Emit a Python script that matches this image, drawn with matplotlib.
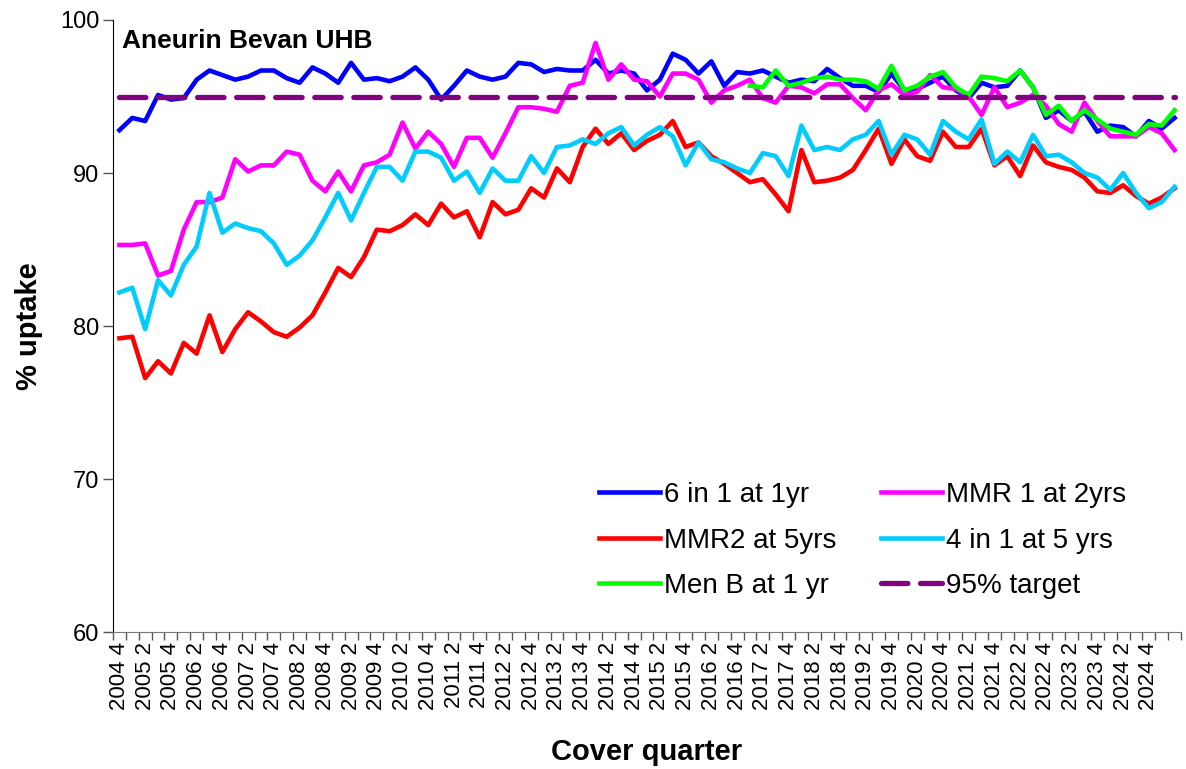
import matplotlib
matplotlib.use("Agg")
import matplotlib.pyplot as plt

plt.rcParams["font.family"] = ["Liberation Sans", "DejaVu Sans"]

# quarters from 2004 Q4 to 2025 Q2
quarters = [f"{2004 + (i + 3) // 4} {(i + 3) % 4 + 1}" for i in range(83)]
last_label = "2024 4"

six_in_one = [92.8, 93.6, 93.4, 95.1, 94.8, 94.9, 96.1, 96.7, 96.4, 96.1,
              96.3, 96.7, 96.7, 96.2, 95.9, 96.9, 96.5, 95.9, 97.2, 96.1,
              96.2, 96.0, 96.3, 96.9, 96.1, 94.8, 95.7, 96.7, 96.3, 96.1,
              96.3, 97.2, 97.1, 96.6, 96.8, 96.7, 96.7, 97.4, 96.5, 96.7,
              96.5, 95.4, 96.1, 97.8, 97.4, 96.5, 97.3, 95.7, 96.6, 96.5,
              96.7, 96.3, 95.9, 96.1, 96.0, 96.8, 96.2, 95.7, 95.7, 95.3,
              96.5, 95.4, 95.5, 95.9, 96.3, 95.4, 94.9, 95.9, 95.6, 95.7,
              96.7, 95.6, 93.6, 94.1, 93.4, 94.0, 92.7, 93.1, 93.0, 92.4,
              93.4, 92.9, 93.6]

mmr1 = [85.3, 85.3, 85.4, 83.3, 83.6, 86.3, 88.1, 88.1, 88.4, 90.9,
        90.1, 90.5, 90.5, 91.4, 91.2, 89.5, 88.8, 90.1, 88.8, 90.5,
        90.7, 91.2, 93.3, 91.6, 92.7, 91.9, 90.4, 92.3, 92.3, 91.0,
        92.6, 94.3, 94.3, 94.2, 94.0, 95.7, 95.9, 98.5, 96.1, 97.1,
        96.1, 96.0, 95.0, 96.5, 96.5, 96.1, 94.6, 95.4, 95.7, 96.1,
        94.9, 94.6, 95.7, 95.6, 95.2, 95.8, 95.8, 94.9, 94.1, 95.4,
        95.8, 95.1, 95.3, 96.4, 95.6, 95.5, 95.0, 93.8, 95.6, 94.3,
        94.6, 95.1, 94.4, 93.2, 92.7, 94.6, 93.4, 92.4, 92.4, 92.4,
        93.0, 92.6, 91.5]

mmr2 = [79.2, 79.3, 76.6, 77.7, 76.9, 78.9, 78.2, 80.7, 78.3, 79.8,
        80.9, 80.3, 79.6, 79.3, 79.9, 80.7, 82.2, 83.8, 83.2, 84.5,
        86.3, 86.2, 86.6, 87.3, 86.6, 88.0, 87.1, 87.5, 85.8, 88.1,
        87.3, 87.6, 89.0, 88.4, 90.3, 89.4, 91.7, 92.9, 91.9, 92.6,
        91.5, 92.1, 92.5, 93.4, 91.7, 92.0, 91.1, 90.6, 90.0, 89.4,
        89.6, 88.6, 87.5, 91.5, 89.4, 89.5, 89.7, 90.2, 91.5, 92.9,
        90.6, 92.2, 91.1, 90.8, 92.7, 91.7, 91.7, 92.9, 90.5, 91.1,
        89.8, 91.8, 90.7, 90.4, 90.2, 89.7, 88.8, 88.7, 89.2, 88.5,
        88.0, 88.4, 89.0]

four_in_one = [82.2, 82.5, 79.8, 83.0, 82.0, 84.0, 85.2, 88.7, 86.1, 86.7,
               86.4, 86.2, 85.4, 84.0, 84.6, 85.6, 87.1, 88.7, 86.9, 88.7,
               90.4, 90.4, 89.5, 91.4, 91.4, 91.0, 89.5, 90.1, 88.7, 90.3,
               89.5, 89.5, 91.1, 90.0, 91.7, 91.8, 92.2, 91.9, 92.6, 93.0,
               91.8, 92.5, 93.0, 92.4, 90.5, 92.0, 90.9, 90.7, 90.3, 90.0,
               91.3, 91.1, 89.8, 93.1, 91.5, 91.7, 91.5, 92.2, 92.5, 93.4,
               91.2, 92.5, 92.2, 91.2, 93.4, 92.7, 92.2, 93.5, 90.6, 91.4,
               90.7, 92.5, 91.1, 91.2, 90.7, 90.0, 89.7, 88.9, 90.0, 88.7,
               87.7, 88.1, 89.1]

# Men B starts at 2017 Q1
menb_start = "2017 1"
menb = [95.7, 95.6, 96.7, 95.7, 95.9, 96.2, 96.3, 96.1, 96.1, 96.0,
        95.5, 97.0, 95.4, 95.7, 96.3, 96.6, 95.6, 95.1, 96.3, 96.2,
        96.0, 96.7, 95.6, 93.8, 94.4, 93.4, 94.1, 93.5, 92.9, 92.7,
        92.5, 93.2, 93.1, 94.1]

target = 95

x = list(range(len(quarters)))
m0 = quarters.index(menb_start)
xm = list(range(m0, m0 + len(menb)))

fig = plt.figure(figsize=(11.86, 7.69), dpi=100)
ax = fig.add_axes([0.0953, 0.178, 0.9005, 0.796])

lw = 3.3
l1, = ax.plot(x, six_in_one, color="#0000FF", lw=lw, label="6 in 1 at 1yr")
l2, = ax.plot(x, mmr1, color="#FF00FF", lw=lw, label="MMR 1 at 2yrs")
l3, = ax.plot(x, mmr2, color="#FF0000", lw=lw, label="MMR2 at 5yrs")
l4, = ax.plot(x, four_in_one, color="#00CCFF", lw=lw, label="4 in 1 at 5 yrs")
l5, = ax.plot(xm, menb, color="#00FF00", lw=lw, label="Men B at 1 yr")
l6, = ax.plot(x, [target] * len(x), color="#800080", lw=3.8,
              dashes=(5, 2.4), dash_capstyle="round", label="95% target")

ax.set_xlim(-0.5, len(x) - 0.5)
ax.set_ylim(60, 100)
ax.set_yticks([60, 70, 80, 90, 100])

lab_idx = [i for i in x if i % 2 == 0 and i <= quarters.index(last_label)]
ax.set_xticks(lab_idx)
ax.set_xticklabels([quarters[i] for i in lab_idx], rotation=90)
ax.set_xticks([i - 0.5 for i in range(len(x) + 1)], minor=True)
ax.tick_params(axis="x", which="major", length=0, labelsize=16, pad=7)
ax.tick_params(axis="x", which="minor", length=6, width=1, color="#555555")
ax.tick_params(axis="y", length=7, width=1, color="#555555", labelsize=17, pad=3)

for s in ["top", "right"]:
    ax.spines[s].set_visible(False)
ax.spines["left"].set_color("black")
ax.spines["bottom"].set_color("#777777")

ax.set_ylabel("% uptake", fontsize=21, fontweight="bold", labelpad=12)
ax.set_xlabel("Cover quarter", fontsize=21, fontweight="bold", labelpad=20)
ax.text(0.008, 0.985, "Aneurin Bevan UHB", transform=ax.transAxes,
        fontsize=19, fontweight="bold", va="top", ha="left")

ax.legend(handles=[l1, l3, l5, l2, l4, l6], ncol=2, frameon=False,
          fontsize=20, loc="upper left", bbox_to_anchor=(0.455, 0.245),
          handlelength=2.2, handletextpad=0.15, columnspacing=1.6,
          labelspacing=0.7, borderaxespad=0, borderpad=0)

fig.savefig("out.png", dpi=100)
